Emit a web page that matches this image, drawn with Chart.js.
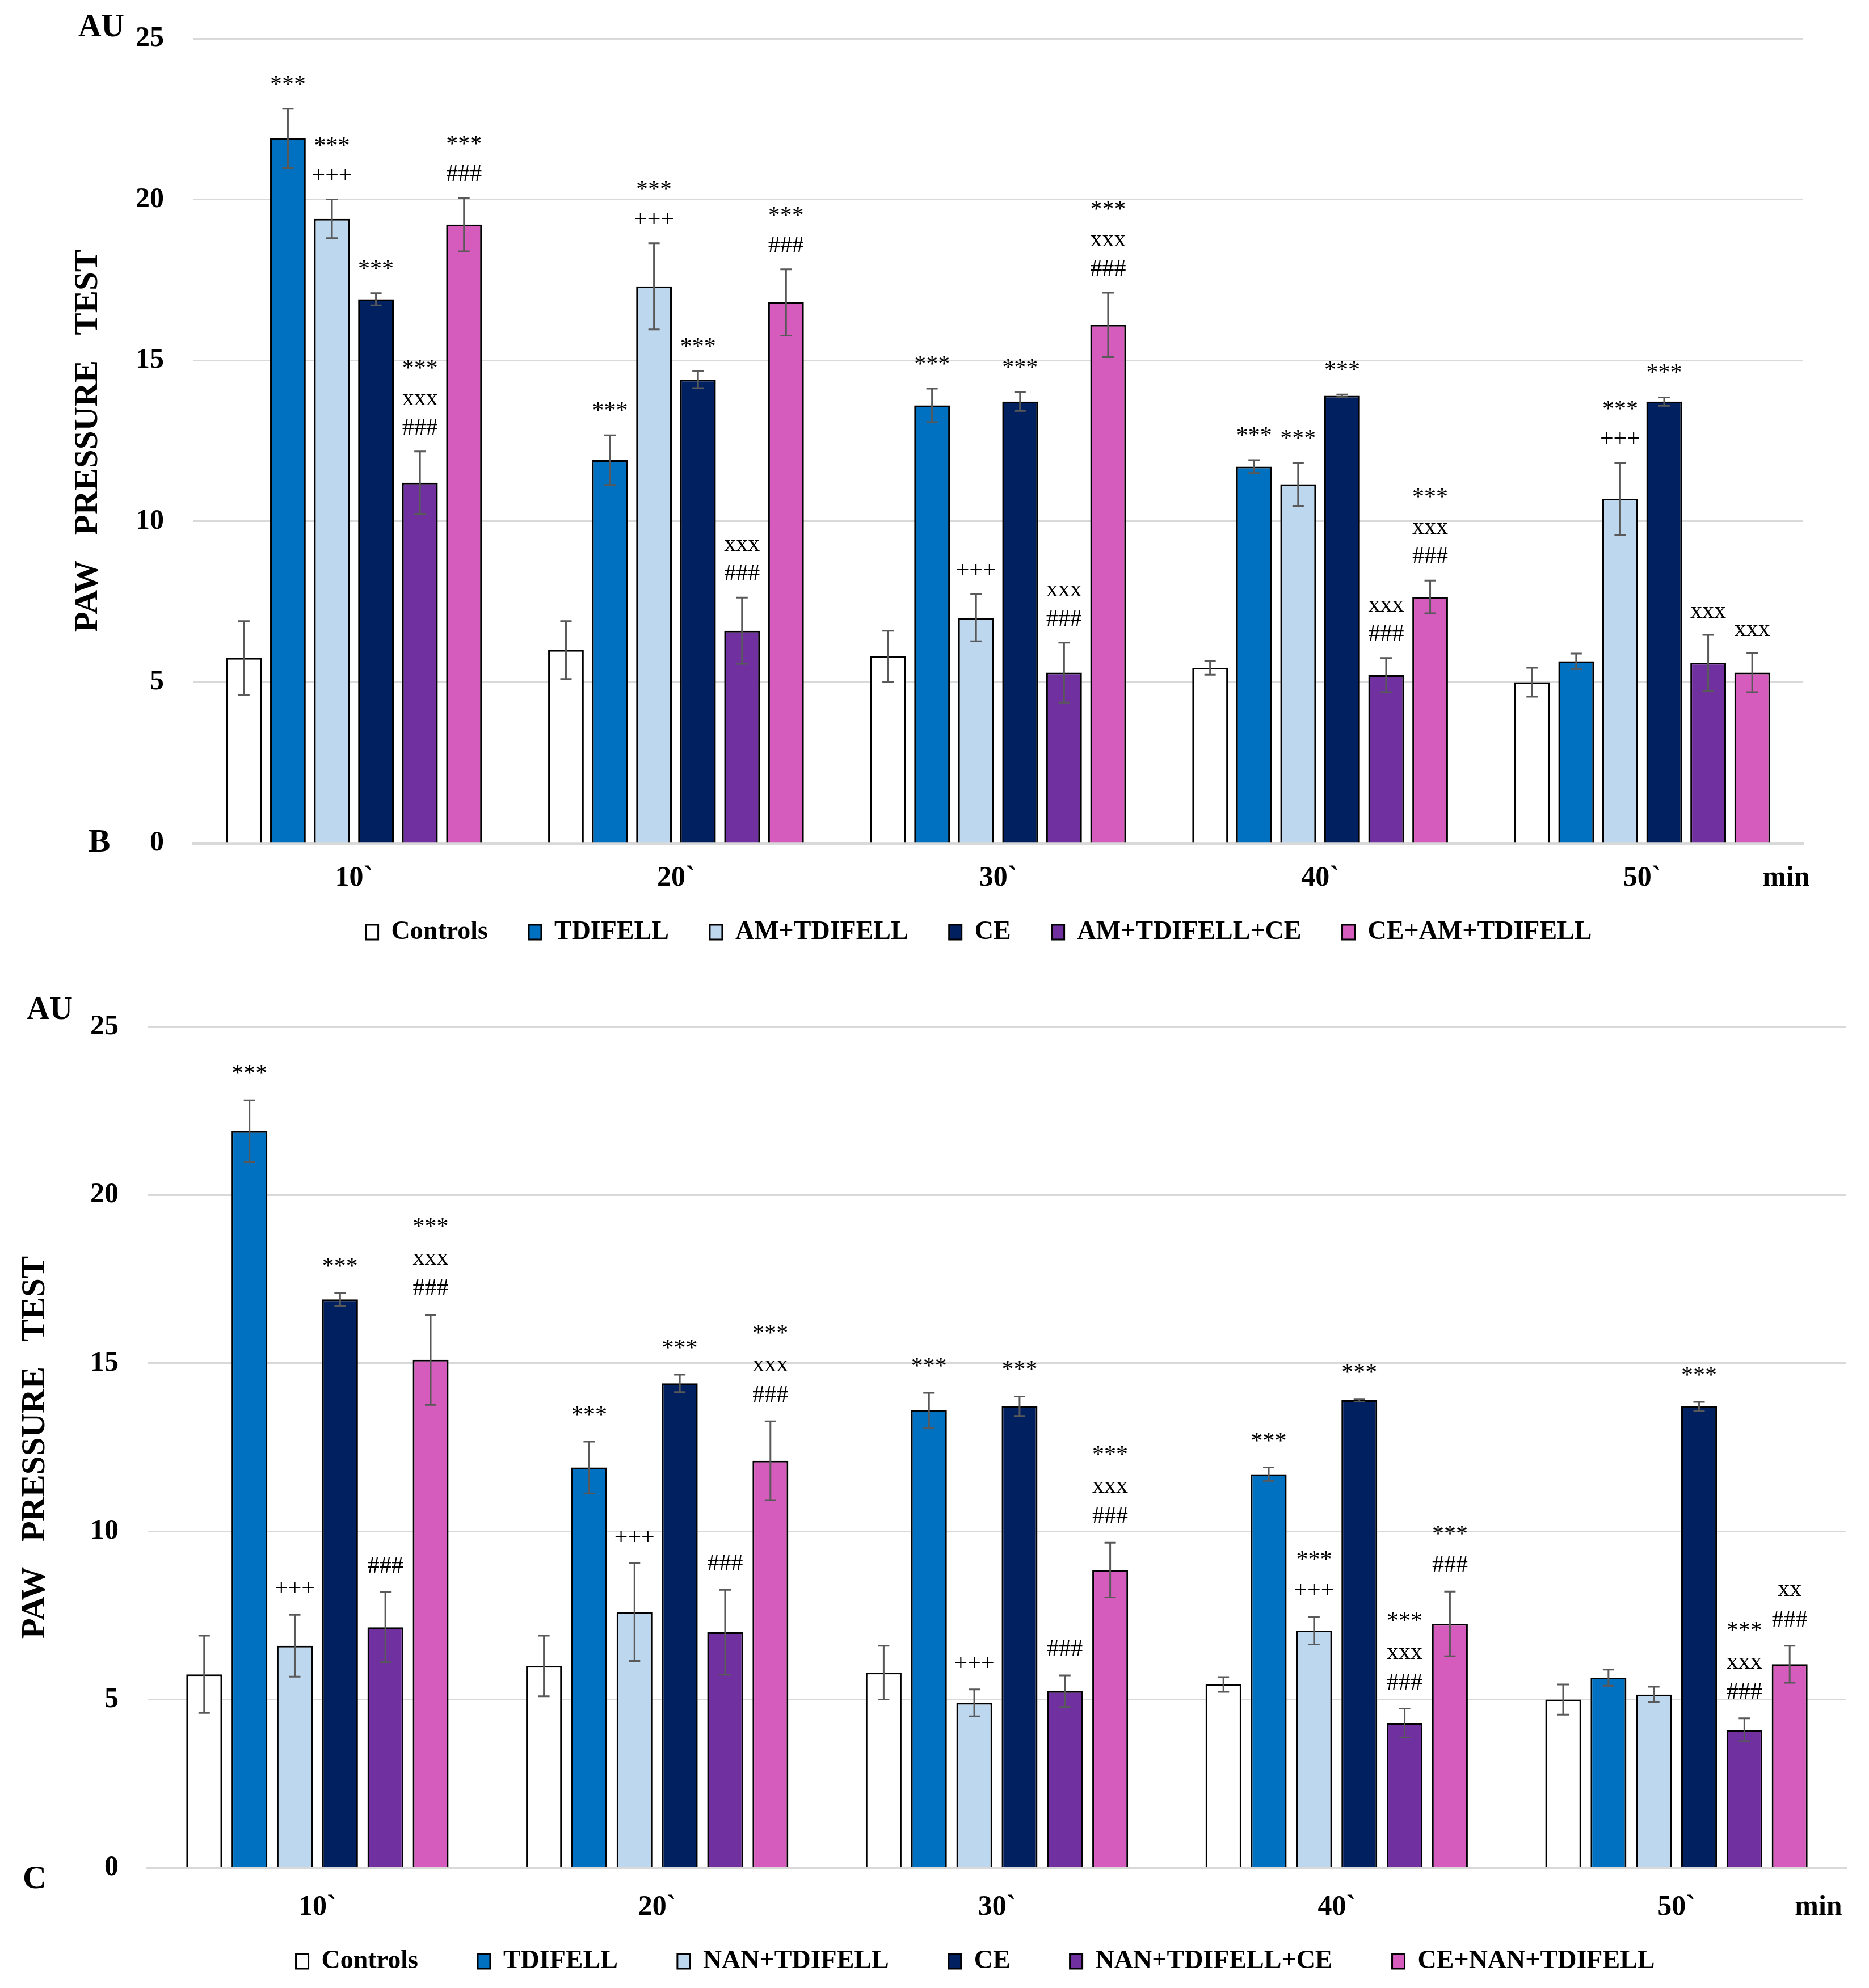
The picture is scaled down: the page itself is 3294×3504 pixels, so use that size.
<!DOCTYPE html>
<html>
<head>
<meta charset="utf-8">
<script src="https://cdn.jsdelivr.net/npm/chart.js@4.4.1/dist/chart.umd.min.js"></script>
<style>
  html, body { margin: 0; padding: 0; background: #fff; }
  #page { position: relative; width: 3294px; height: 3504px; overflow: hidden; }
  canvas { position: absolute; left: 0; }
  #chartB { top: 0; }
  #chartC { top: 1720px; }
</style>
</head>
<body>
<div id="page">
  <canvas id="chartB" width="3294" height="1720"></canvas>
  <canvas id="chartC" width="3294" height="1844"></canvas>
</div>
<script>
const categories = ["10`", "20`", "30`", "40`", "50`"];
const yMin = 0, yMax = 25, yStep = 5;

// groups shared by both panels
const controls = [5.75, 6.0, 5.8, 5.45, 5.0];
const controlsErr = [1.15, 0.9, 0.8, 0.22, 0.45];
const tdifell = [21.9, 11.9, 13.6, 11.7, 5.65];
const tdifellErr = [0.92, 0.77, 0.52, 0.2, 0.24];
const tdifellMarks = [["***"], ["***"], ["***"], ["***"], []];
const ce = [16.9, 14.4, 13.72, 13.9, 13.72];
const ceErr = [0.19, 0.26, 0.29, 0.04, 0.13];
const ceMarks = [["***"], ["***"], ["***"], ["***"], ["***"]];
const noMarks = [[], [], [], [], []];

// panel B (AM)
const amTdifell = [19.4, 17.3, 7.0, 11.15, 10.7];
const amTdifellErr = [0.6, 1.34, 0.73, 0.67, 1.12];
const amTdifellMarks = [["***", "+++"], ["***", "+++"], ["+++"], ["***"], ["***", "+++"]];
const amTdifellCe = [11.2, 6.6, 5.3, 5.22, 5.6];
const amTdifellCeErr = [0.97, 1.03, 0.93, 0.53, 0.87];
const amTdifellCeMarks = [["***", "xxx", "###"], ["xxx", "###"], ["xxx", "###"], ["xxx", "###"], ["xxx"]];
const ceAmTdifell = [19.22, 16.8, 16.1, 7.65, 5.3];
const ceAmTdifellErr = [0.83, 1.03, 1.0, 0.51, 0.61];
const ceAmTdifellMarks = [["***", "###"], ["***", "###"], ["***", "xxx", "###"], ["***", "xxx", "###"], ["xxx"]];

// panel C (NAN)
const nanTdifell = [6.6, 7.6, 4.9, 7.05, 5.15];
const nanTdifellErr = [0.92, 1.45, 0.4, 0.41, 0.23];
const nanTdifellMarks = [["+++"], ["+++"], ["+++"], ["***", "+++"], []];
const nanTdifellCe = [7.15, 7.0, 5.25, 4.3, 4.1];
const nanTdifellCeErr = [1.04, 1.26, 0.47, 0.43, 0.34];
const nanTdifellCeMarks = [["###"], ["###"], ["###"], ["***", "xxx", "###"], ["***", "xxx", "###"]];
const ceNanTdifell = [15.1, 12.1, 8.85, 7.25, 6.05];
const ceNanTdifellErr = [1.34, 1.17, 0.81, 0.96, 0.55];
const ceNanTdifellMarks = [["***", "xxx", "###"], ["***", "xxx", "###"], ["***", "xxx", "###"], ["***", "###"], ["xx", "###"]];

const seriesColors = ["#ffffff", "#0070c0", "#bdd7ee", "#002060", "#7030a0", "#d55bbd"];
const FONT = "'Liberation Serif', 'Times New Roman', serif";

// error bars, significance marks, loose labels, legend placement
const extrasPlugin = {
  id: "extras",
  afterLayout(chart, args, opts) {
    const lg = chart.legend;
    if (!lg) return;
    const lab = lg.options.labels;
    const itemH = Math.max(lab.font.size, lab.boxHeight);
    const dy = (lg.top + lab.padding + itemH / 2) - opts.legendY;
    lg.top -= dy; lg.bottom -= dy;
    lg.left += opts.legendDx; lg.right += opts.legendDx;
  },
  afterDatasetsDraw(chart, args, opts) {
    const ctx = chart.ctx;
    const y = chart.scales.y;
    ctx.save();
    chart.data.datasets.forEach((ds, i) => {
      const meta = chart.getDatasetMeta(i);
      meta.data.forEach((bar, j) => {
        const v = ds.data[j], e = ds.errors[j];
        const yTop = y.getPixelForValue(v + e);
        const yBot = y.getPixelForValue(v - e);
        ctx.strokeStyle = "#595959";
        ctx.lineWidth = 3;
        ctx.beginPath();
        ctx.moveTo(bar.x, yTop); ctx.lineTo(bar.x, yBot);
        ctx.moveTo(bar.x - 10, yTop); ctx.lineTo(bar.x + 10, yTop);
        ctx.moveTo(bar.x - 10, yBot); ctx.lineTo(bar.x + 10, yBot);
        ctx.stroke();

        const lines = ds.marks[j];
        ctx.fillStyle = "#000";
        ctx.font = "42px " + FONT;
        ctx.textAlign = "center";
        ctx.textBaseline = "alphabetic";
        lines.forEach((t, k) => {
          const base = yTop - opts.markGap - (lines.length - 1 - k) * opts.markStep;
          ctx.fillText(t, bar.x, base);
        });
      });
    });
    ctx.restore();
  },
  afterDraw(chart, args, opts) {
    const ctx = chart.ctx, a = chart.chartArea;
    ctx.save();
    ctx.fillStyle = "#000";
    ctx.textBaseline = "middle";
    ctx.font = "bold 56px " + FONT;
    ctx.textAlign = "right";
    ctx.fillText("AU", a.left + opts.auDx, a.top + opts.auDy);
    ctx.textAlign = "center";
    ctx.font = "bold 58px " + FONT;
    ctx.fillText(opts.letter, a.left + opts.letterDx, a.bottom + opts.letterDy);
    ctx.font = "bold 50px " + FONT;
    ctx.fillText("min", a.right + opts.minDx, a.bottom + opts.minDy);
    ctx.restore();
  }
};

function makeChart(id, names, values, errors, marks, L) {
  const datasets = names.map((name, i) => ({
    label: name,
    data: values[i],
    errors: errors[i],
    marks: marks[i],
    backgroundColor: seriesColors[i],
    borderColor: "#000000",
    borderWidth: 3,
    categoryPercentage: L.catPct,
    barPercentage: L.barPct
  }));

  return new Chart(document.getElementById(id), {
    type: "bar",
    data: { labels: categories, datasets },
    plugins: [extrasPlugin],
    options: {
      responsive: false,
      animation: false,
      devicePixelRatio: 1,
      layout: { padding: { left: 0, right: L.right, top: L.top, bottom: 0 } },
      scales: {
        x: {
          grid: { display: false, drawTicks: false },
          border: { display: true, color: "#d9d9d9", width: 5 },
          ticks: { color: "#000", padding: L.tickPad, font: { family: FONT, size: 50, weight: "bold" } },
          afterFit(s) { s.height = L.xHeight; }
        },
        y: {
          min: yMin,
          max: yMax,
          ticks: { stepSize: yStep, color: "#000", padding: 51, font: { family: FONT, size: 50, weight: "bold", lineHeight: 0.6 } },
          grid: { color: "#d9d9d9", lineWidth: 3, drawTicks: false },
          border: { display: false },
          title: {
            display: true,
            text: "PAW   PRESSURE   TEST",
            color: "#000",
            font: { family: FONT, size: 59, weight: "bold" },
            padding: { top: L.titlePad, bottom: 0 }
          },
          afterFit(s) { s.width = L.yWidth; }
        }
      },
      plugins: {
        legend: {
          position: "bottom",
          fullSize: false,
          labels: {
            color: "#000",
            font: { family: FONT, size: 46, weight: "bold" },
            boxWidth: 22,
            boxHeight: 26,
            padding: L.legendPad
          }
        },
        tooltip: { enabled: false },
        extras: L.extras
      }
    }
  });
}

makeChart("chartB",
  ["Controls", "TDIFELL", "AM+TDIFELL", "CE", "AM+TDIFELL+CE", "CE+AM+TDIFELL"],
  [controls, tdifell, amTdifell, ce, amTdifellCe, ceAmTdifell],
  [controlsErr, tdifellErr, amTdifellErr, ceErr, amTdifellCeErr, ceAmTdifellErr],
  [noMarks, tdifellMarks, amTdifellMarks, ceMarks, amTdifellCeMarks, ceAmTdifellMarks],
  {
    top: 68, right: 116, yWidth: 340, xHeight: 106, tickPad: 32, titlePad: 120,
    catPct: 0.82, barPct: 0.81, legendPad: 72,
    extras: { legendY: 1643, legendDx: -34, markGap: 30, markStep: 52, auDx: -121, auDy: -18, letter: "B", letterDx: -165, letterDy: 0, minDx: -30, minDy: 62 }
  });

makeChart("chartC",
  ["Controls", "TDIFELL", "NAN+TDIFELL", "CE", "NAN+TDIFELL+CE", "CE+NAN+TDIFELL"],
  [controls, tdifell, nanTdifell, ce, nanTdifellCe, ceNanTdifell],
  [controlsErr, tdifellErr, nanTdifellErr, ceErr, nanTdifellCeErr, ceNanTdifellErr],
  [noMarks, tdifellMarks, nanTdifellMarks, ceMarks, nanTdifellCeMarks, ceNanTdifellMarks],
  {
    top: 90, right: 40, yWidth: 260, xHeight: 111, tickPad: 40, titlePad: 27,
    catPct: 0.80, barPct: 0.79, legendPad: 105,
    extras: { legendY: 1737, legendDx: -38, markGap: 34, markStep: 54, auDx: -132, auDy: -28, letter: "C", letterDx: -199, letterDy: 21, minDx: -49, minDy: 70 }
  });
</script>
</body>
</html>
